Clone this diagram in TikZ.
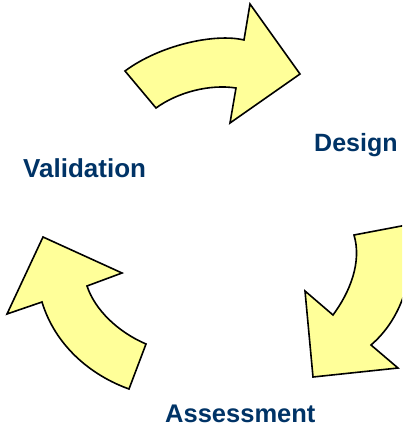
\documentclass[tikz,border=0pt]{standalone}
\usepackage{fontspec}
\setmainfont{Liberation Sans}
\definecolor{arrowfill}{RGB}{255,255,153}
\definecolor{labelblue}{RGB}{0,51,102}
\begin{document}
\begin{tikzpicture}[x=1pt,y=-1pt,
  cyclearrow/.style={draw=black,fill=arrowfill,line width=1.6pt,line join=miter},
  steplabel/.style={text=labelblue,font=\bfseries\fontsize{25}{30}\selectfont,inner sep=0pt,anchor=base west}]
\useasboundingbox (0,0) rectangle (402,430);
\clip (0,0) rectangle (402,430);
% top arrow
\draw[cyclearrow] (125,71) .. controls (160,45) and (215,33) .. (244,40)
  -- (250,4) -- (300,74) -- (230,123) -- (236,88)
  .. controls (210,84) and (178,92) .. (156,108) -- cycle;
% right arrow
\draw[cyclearrow] (354,235) -- (412,224)
  .. controls (415,280) and (400,320) .. (371,345)
  -- (398,368) -- (313,377) -- (305,291) -- (333,315)
  .. controls (350,292) and (362,262) .. (354,235) -- cycle;
% left arrow
\draw[cyclearrow] (43,237) -- (122,273) -- (87,286)
  .. controls (95,310) and (118,332) .. (146,344)
  -- (129,389)
  .. controls (90,375) and (55,345) .. (42,302)
  -- (7,314) -- cycle;
\node[steplabel] (design) at (314,152) {Design};
\node[steplabel,font=\bfseries\fontsize{26}{30}\selectfont] (validation) at (23,178) {Validation};
\node[steplabel,font=\bfseries\fontsize{25.5}{30}\selectfont] (assessment) at (165,422) {Assessment};
\end{tikzpicture}
\end{document}
